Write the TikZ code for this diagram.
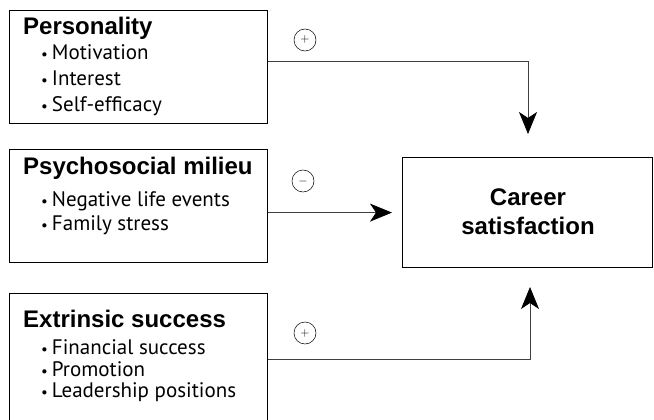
\documentclass[tikz,border=0pt]{standalone}
\usepackage{fontspec}
\setmainfont{PT Sans}
\newfontfamily\headfont{Liberation Sans}
\usetikzlibrary{arrows.meta,positioning}
\newcommand{\bul}{{\fontsize{15}{15}\selectfont\textbullet}\hspace{4pt}}
\begin{document}
\begin{tikzpicture}[x=1pt,y=-1pt,
  box/.style={draw, line width=1.2pt, anchor=north west, inner sep=0pt},
  head/.style={anchor=base west, inner sep=0pt, font=\headfont\bfseries\fontsize{24}{28}\selectfont},
  item/.style={anchor=base west, inner sep=0pt, font=\fontsize{21}{25}\selectfont},
  sign/.style={draw, circle, line width=0.5pt, minimum size=22pt, inner sep=0pt, font=\fontsize{12}{12}\selectfont},
  arr/.style={line width=0.8pt, black!75, -{Stealth[length=22pt,width=18pt,inset=6pt,black]}}]
\useasboundingbox (0,0) rectangle (654,420);
\node[box, minimum width=258pt, minimum height=113pt] (pers) at (9,10) {};
\node[box, minimum width=258pt, minimum height=113pt] (psy) at (9,149) {};
\node[box, minimum width=258pt, minimum height=130pt] (ext) at (9,293) {};
\node[box, minimum width=250pt, minimum height=110pt] (car) at (402,157) {};
\node[head] (perst) at (23,35) {Personality};
\node[item] (pers1) at (41,60) {\bul Motivation};
\node[item] (pers2) at (41,86) {\bul Interest};
\node[item] (pers3) at (41,111) {\bul Self-efficacy};
\node[head] (psyt) at (23,174) {Psychosocial milieu};
\node[item] (psy1) at (41,206) {\bul Negative life events};
\node[item] (psy2) at (41,230) {\bul Family stress};
\node[head] (extt) at (23,327) {Extrinsic success};
\node[item] (ext1) at (41,354) {\bul Financial success};
\node[item] (ext2) at (41,376) {\bul Promotion};
\node[item] (ext3) at (41,397) {\bul Leadership positions};
\node[align=center, font=\headfont\bfseries\fontsize{24}{29}\selectfont] (cart) at (528,212) {Career\\satisfaction};
\node[sign] (s1) at (305,40) {$+$};
\node[sign] (s2) at (303,181) {$-$};
\node[sign] (s3) at (305,333) {$+$};
\coordinate (c1) at (528,61);
\coordinate (t1) at (528,134);
\coordinate (c3) at (530,359);
\coordinate (t3) at (530,287);
\draw[arr] (pers.east |- c1) -| (t1);
\draw[arr] (psy.east |- car.west) -- ([xshift=-10pt]car.west);
\draw[arr] (ext.east |- c3) -| (t3);
\end{tikzpicture}
\end{document}
